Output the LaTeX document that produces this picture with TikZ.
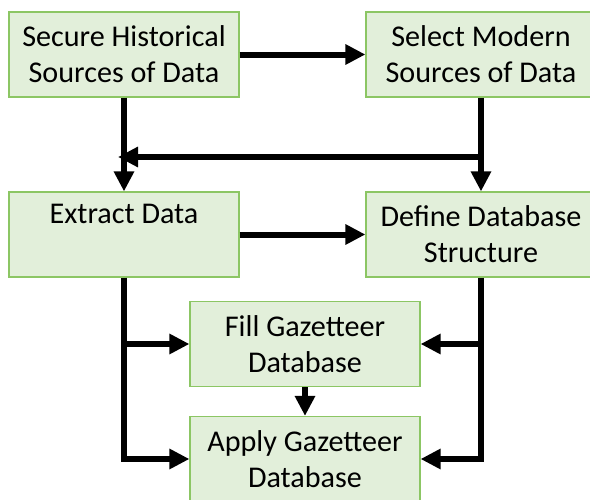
\documentclass[tikz,border=0pt]{standalone}
\usepackage{fontspec}
\setmainfont{Carlito}
\usetikzlibrary{arrows.meta}
\definecolor{boxfill}{RGB}{226,239,218}
\definecolor{boxline}{RGB}{140,198,100}
\begin{document}
\begin{tikzpicture}[x=0.75pt,y=-0.75pt]
	\tikzset{stage/.style={draw=boxline, fill=boxfill, line width=0.9pt,
			minimum width=172.5pt, minimum height=63.75pt, inner sep=0pt,
			align=center, font=\fontsize{22.6}{27}\selectfont},
		flow/.style={line width=4.5pt, -{Triangle[length=15pt,width=14.5pt]}}}
	\useasboundingbox (0,0) rectangle (590,500);
	\clip (0,0) rectangle (590,500);

	% Stages
	\node[stage] (hist) at (124,54.5) {Secure Historical\\Sources of Data};
	\node[stage] (modern) at (481,54.5) {Select Modern\\Sources of Data};
	\node[stage] (extract) at (124,234.5) {Extract Data\\\phantom{Xy}};
	\node[stage] (define) at (481,234.5) {Define Database\\Structure};
	\node[stage] (fill) at (305,344) {Fill Gazetteer\\Database};
	\node[stage] (apply) at (305,459) {Apply Gazetteer\\Database};

	% Crossing line between the top rows
	\coordinate (cross) at (481,157);
	\coordinate (join) at (118,157);

	% Top rows
	\draw[flow] (hist.east) -- (modern.west);
	\draw[flow] (hist.south) -- (extract.north);
	\draw[flow] (modern.south) -- (define.north);
	\draw[flow] (cross) -- (join);
	\draw[flow] (extract.east) -- (define.west);

	% Feeds into the gazetteer
	\draw[flow] (extract.south) |- (apply.west);
	\draw[flow] (extract.south |- fill.west) -- (fill.west);
	\draw[flow] (define.south) |- (apply.east);
	\draw[flow] (define.south |- fill.east) -- (fill.east);
	\draw[flow] (fill.south) -- (apply.north);
\end{tikzpicture}
\end{document}
